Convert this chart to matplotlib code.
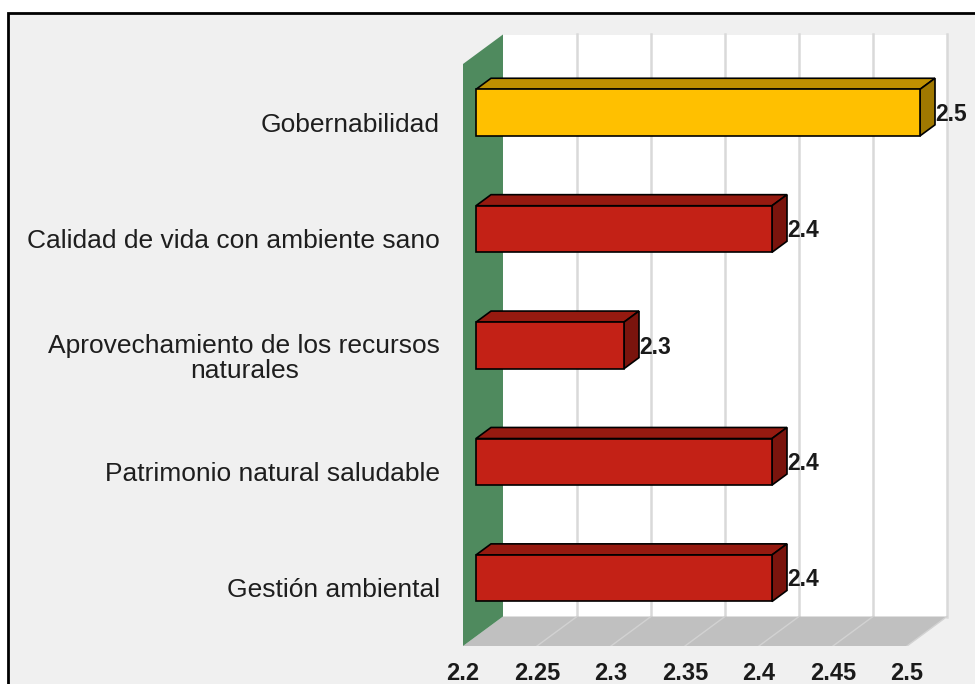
import matplotlib
matplotlib.use("Agg")
import matplotlib.pyplot as plt
from matplotlib.patches import Polygon, Rectangle

# data (bottom to top)
categories = ["Gestión ambiental",
              "Patrimonio natural saludable",
              "Aprovechamiento de los recursos\nnaturales",
              "Calidad de vida con ambiente sano",
              "Gobernabilidad"]
values = [2.4, 2.4, 2.3, 2.4, 2.5]
value_labels = ["2.4", "2.4", "2.3", "2.4", "2.5"]
xticks = [2.2, 2.25, 2.3, 2.35, 2.4, 2.45, 2.5]
xtick_labels = ["2.2", "2.25", "2.3", "2.35", "2.4", "2.45", "2.5"]
highlight = "Gobernabilidad"

plt.rcParams["font.family"] = ["Liberation Sans", "DejaVu Sans"]

W, H = 975, 684
fig = plt.figure(figsize=(W / 100, H / 100), dpi=100, facecolor="white")

# grey panel with black frame on top / left
fig.patches.append(Rectangle((7.5 / W, -0.1), 1.2, 1.1 - 13.5 / H,
                             transform=fig.transFigure, facecolor="#f0f0f0",
                             edgecolor="black", linewidth=2, zorder=-5))

ax = fig.add_axes([463 / W, (H - 646) / H, (W - 463) / W, 646 / H])
ax.set_facecolor("none")
xmin, xmax = xticks[0], xticks[-1]
ax.set_xlim(xmin, xmin + 512 / 1480)
ax.set_ylim(-0.5, len(categories) - 0.5 + 64 / 116.4)

# 3d depth offsets (data units)
DX = 40 / 1480
DY = 29.5 / 116.4
y0, y1 = -0.5, len(categories) - 0.5

# back wall
ax.add_patch(Rectangle((xmin + DX, y0 + DY), xmax - xmin, y1 - y0,
                       facecolor="white", edgecolor="none", zorder=1))
for t in xticks[1:]:
    ax.plot([t + DX, t + DX], [y0 + DY, y1 + DY], color="#d9d9d9", lw=1.8, zorder=2)

# floor
ax.add_patch(Polygon([(xmin, y0), (xmax, y0), (xmax + DX, y0 + DY), (xmin + DX, y0 + DY)],
                     facecolor="#c0c0c0", edgecolor="none", zorder=2))
for t in xticks[1:]:
    ax.plot([t, t + DX], [y0, y0 + DY], color="#d2d2d2", lw=1.0, zorder=3)

# side wall
ax.add_patch(Polygon([(xmin, y0), (xmin, y1), (xmin + DX, y1 + DY), (xmin + DX, y0 + DY)],
                     facecolor="#4f8a5e", edgecolor="none", zorder=3))

# bars
D0, D1, BH = 0.325, 0.7, 0.40
dd = D1 - D0
for j, (cat, v, lab) in enumerate(zip(categories, values, value_labels)):
    if cat == highlight:
        cf, ct, cs = "#ffc000", "#c09000", "#a07800"
    else:
        cf, ct, cs = "#c32116", "#961a10", "#7a140d"
    xa = xmin + D0 * DX
    xb = v + D0 * DX
    yc = j + D0 * DY
    yb, yt = yc - BH / 2, yc + BH / 2
    ax.add_patch(Polygon([(xa, yt), (xb, yt), (xb + dd * DX, yt + dd * DY), (xa + dd * DX, yt + dd * DY)],
                         facecolor=ct, edgecolor="black", lw=1.2, zorder=5))
    ax.add_patch(Polygon([(xb, yb), (xb, yt), (xb + dd * DX, yt + dd * DY), (xb + dd * DX, yb + dd * DY)],
                         facecolor=cs, edgecolor="black", lw=1.2, zorder=5))
    ax.add_patch(Rectangle((xa, yb), v - xmin, BH, facecolor=cf, edgecolor="black", lw=1.2, zorder=6))
    ax.text(xb + dd * DX + 0.0005, yc - 0.015, lab, ha="left", va="center",
            fontsize=16.5, fontweight="bold", color="#1a1a1a", zorder=7)

ax.set_xticks(xticks, xtick_labels, fontsize=17, fontweight="bold")
ax.set_yticks(range(len(categories)), categories, fontsize=19)
for lbl in ax.get_yticklabels():
    lbl.set_multialignment("center")
    lbl.set_linespacing(1.1)
    lbl.set_color("#1e1e1e")
for lbl in ax.get_xticklabels():
    lbl.set_color("#1a1a1a")
ax.tick_params(axis="x", length=0, pad=11.5)
ax.tick_params(axis="y", length=0, pad=16.5)
for s in ax.spines.values():
    s.set_visible(False)

fig.savefig("out.png", dpi=100, facecolor=fig.get_facecolor())
